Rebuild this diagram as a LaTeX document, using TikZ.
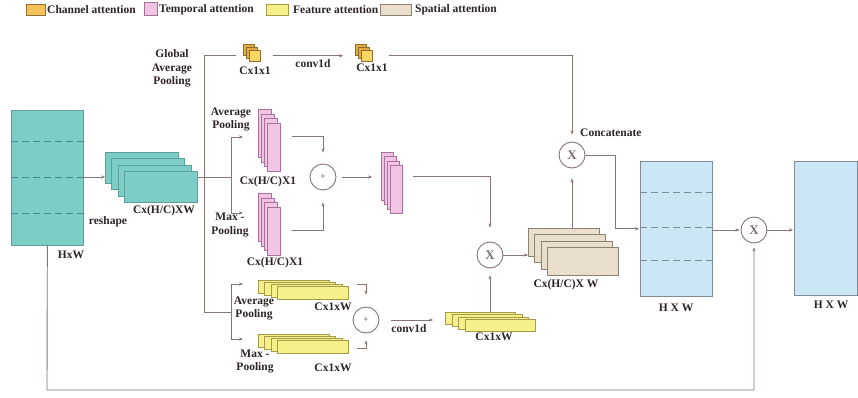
\documentclass[tikz,border=0pt]{standalone}
\usepackage{fontspec}
\setmainfont{Liberation Serif}
\usetikzlibrary{arrows.meta}
\definecolor{linec}{HTML}{857573}
\definecolor{txt}{HTML}{2E2424}
\definecolor{tealf}{HTML}{7ACEC6}
\definecolor{teald}{HTML}{5E9F99}
\definecolor{tealdash}{HTML}{4E8783}
\definecolor{orf}{HTML}{E8A83C}
\definecolor{ord}{HTML}{8E6E34}
\definecolor{orl}{HTML}{F8D862}
\definecolor{legor}{HTML}{F5C25A}
\definecolor{pinkf}{HTML}{F2C4E4}
\definecolor{pinkd}{HTML}{A8709A}
\definecolor{yelf}{HTML}{F6F08A}
\definecolor{yeld}{HTML}{A49C48}
\definecolor{beigef}{HTML}{E9DDCB}
\definecolor{beiged}{HTML}{8C8272}
\definecolor{bluef}{HTML}{CBE7F6}
\definecolor{blued}{HTML}{7F8C95}
\definecolor{opc}{HTML}{7A6E6E}
\begin{document}
\begin{tikzpicture}[x=1pt,y=-1pt,
  every node/.style={font=\bfseries\fontsize{11.5}{13.5}\selectfont, text=txt},
  lbl/.style={inner sep=0pt},
  box/.style={draw, anchor=north west, inner sep=0pt, line width=0.7pt},
  tealbox/.style={box, fill=tealf, draw=teald, minimum width=73pt, minimum height=31pt},
  cubeback/.style={box, fill=orf, draw=ord, minimum width=11pt, minimum height=11pt, line width=0.5pt},
  cubefront/.style={box, fill=orl, draw=ord, minimum width=11pt, minimum height=11pt, line width=0.5pt},
  pinkbox/.style={box, fill=pinkf, draw=pinkd, minimum width=13pt, minimum height=48pt},
  yelbox/.style={box, fill=yelf, draw=yeld, minimum width=71pt, minimum height=13pt},
  beigebox/.style={box, fill=beigef, draw=beiged, minimum width=71pt, minimum height=28pt},
  bluebox/.style={box, fill=bluef, draw=blued, minimum width=72pt, minimum height=135pt},
  ln/.style={draw=linec, line width=0.9pt},
  arr/.style={ln, -{Stealth[length=4pt,width=3.2pt]}},
  op/.style={circle, draw=linec, line width=0.9pt, fill=white, minimum size=26pt, inner sep=0pt, text=opc},
]
\useasboundingbox (0,0) rectangle (858,398);

% ---------- legend ----------
\node[box, fill=legor, draw=ord, minimum width=19pt, minimum height=11pt] (lg1) at (26,4) {};
\node[lbl, anchor=west] (lt1) at (47,9.5) {Channel attention};
\node[box, fill=pinkf, draw=pinkd, minimum width=13pt, minimum height=13pt] (lg2) at (144,2.5) {};
\node[lbl, anchor=west] (lt2) at (159,9.5) {Temporal attention};
\node[box, fill=yelf, draw=yeld, minimum width=22pt, minimum height=11pt] (lg3) at (266,4) {};
\node[lbl, anchor=west] (lt3) at (293,9.5) {Feature attention};
\node[box, fill=beigef, draw=beiged, minimum width=31pt, minimum height=11pt] (lg4) at (380,4) {};
\node[lbl, anchor=west] (lt4) at (415,9.5) {Spatial attention};

% ---------- input block ----------
\node[box, fill=tealf, draw=teald, minimum width=72pt, minimum height=135pt] (inp) at (11,110) {};
\foreach \yy in {142,177,213}
  \draw[tealdash, line width=1pt, dash pattern=on 7pt off 4pt] (inp.west |- 0,\yy) -- (inp.east |- 0,\yy);
\node[lbl] (lhw) at (71,255) {HxW};

% ---------- teal stack ----------
\foreach \i in {0,...,3}
  \node[tealbox] (ts\i) at ({105+6.3*\i},{152+6.3*\i}) {};
\node[lbl] (tsl) at (164,211) {Cx(H/C)XW};
\node[lbl] (rsh) at (108,222) {reshape};
\draw[arr] (inp.east |- 0,177) -- (ts0.west |- 0,177);

% ---------- coordinates ----------
\coordinate (tt) at (204,55);
\coordinate (tb) at (204,312);
\coordinate (gend) at (236,55);
\coordinate (pj) at (231,177);
\coordinate (pbt) at (231,137);
\coordinate (pbb) at (231,213);
\coordinate (ybt) at (231,284);
\coordinate (ybb) at (231,339);
\coordinate (yj) at (231,312);

% trunk and branches
\draw[ln] (ts3.east |- pj) -- (pj);
\draw[ln] (gend) -- (tt) -- (tb) -- (yj);
\draw[ln] (pbt) -- (pbb);
\draw[ln] (ybt) -- (ybb);

% ---------- channel attention ----------
\node[lbl, align=center] (gap) at (172,68.5) {Global\\Average\\Pooling};
\foreach \i/\s in {0/cubeback,1/cubeback,2/cubefront}
  \node[\s] (ca\i) at ({243+3*\i},{44+3*\i}) {};
\foreach \i/\s in {0/cubeback,1/cubeback,2/cubefront}
  \node[\s] (cb\i) at ({355+3*\i},{44+3*\i}) {};
\node[lbl] (cal) at (255,71) {Cx1x1};
\node[lbl] (cbl) at (372,68) {Cx1x1};
\node[lbl] (cconv) at (313,64) {conv1d};
\draw[arr, shorten <=12pt, shorten >=12pt] (ca2.east) -- (cb0.west |- ca2.east);

% ---------- temporal attention ----------
\foreach \i in {0,...,3} {
  \node[pinkbox] (pa\i) at ({258+3*\i},{109+4.7*\i}) {};
  \node[pinkbox] (pm\i) at ({258+3*\i},{193+4.7*\i}) {};
  \node[pinkbox, minimum width=12pt] (pr\i) at ({381+3*\i},{152+4.3*\i}) {};
}
\node[lbl] (pal) at (268,182) {Cx(H/C)X1};
\node[lbl] (pml) at (275,263) {Cx(H/C)X1};
\node[lbl, align=center] (pavg) at (231,119.5) {Average\\Pooling};
\node[lbl, align=center] (pmax) at (230,225) {Max -\\Pooling};
\draw[arr, shorten >=15pt] (pbt) -- (pa0.west |- pbt);
\draw[arr, shorten >=15pt] (pbb) -- (pm0.west |- pbb);

\node[op] (plus1) at (323,177) {\fontsize{9}{9}\selectfont +};
\coordinate (pao) at (292,136);
\coordinate (pmo) at (292,230);
\draw[arr, shorten >=11pt] (pao) -| (plus1.north);
\draw[arr, shorten >=12pt] (pmo) -| (plus1.south);
\draw[arr, shorten <=6pt, shorten >=9pt] (plus1.east) -- (pr0.west |- plus1.east);

% ---------- feature attention ----------
\foreach \i in {0,...,3} {
  \node[yelbox] (ya\i) at ({258+6.3*\i},{280+2*\i}) {};
  \node[yelbox] (ym\i) at ({258+6.3*\i},{334+2*\i}) {};
}
\foreach \i in {0,...,3}
  \node[yelbox, minimum width=70pt, minimum height=12pt] (yr\i) at ({445+6.7*\i},{312+2.3*\i}) {};
\node[lbl] (yal) at (333,307) {Cx1xW};
\node[lbl] (yml) at (333,368) {Cx1xW};
\node[lbl] (yrl) at (494,337) {Cx1xW};
\node[lbl, align=center] (yavg) at (254,308.5) {Average\\Pooling};
\node[lbl, align=center] (ymax) at (255,361.5) {Max -\\Pooling};
\draw[arr, shorten >=15pt] (ybt) -- (ya0.west |- ybt);
\draw[arr, shorten >=15pt] (ybb) -- (ym0.west |- ybb);

\node[op] (plus2) at (366,320) {\fontsize{9}{9}\selectfont +};
\coordinate (yao) at (357,284);
\coordinate (ymo) at (357,348);
\draw[arr, shorten >=12pt] (yao) -| (plus2.north);
\draw[arr, shorten >=7pt] (ymo) -| (plus2.south);
\draw[arr, shorten <=11.5pt, shorten >=12pt] (plus2.east) -- (yr0.west |- plus2.east);
\node[lbl] (yconv) at (409,329) {conv1d};

% ---------- spatial / combination ----------
\node[op] (lx) at (490,255) {\fontsize{13}{13}\selectfont X};
\coordinate (pro) at (413,176);
\draw[arr, shorten >=14pt] (pro) -| (lx.north);
\draw[arr, shorten >=7pt] (yr0.north -| lx) -- (lx.south);

\foreach \i in {0,...,3}
  \node[beigebox] (bs\i) at ({528+6.3*\i},{228+6.3*\i}) {};
\node[lbl] (bsl) at (566,285) {Cx(H/C)X W};
\draw[arr] (lx.east) -- (bs0.west |- lx.east);

\node[op] (catx) at (572,155) {\fontsize{13}{13}\selectfont X};
\node[lbl, anchor=west] (catl) at (580,133) {Concatenate};
\draw[arr, shorten >=10pt] (bs0.north -| catx) -- (catx.south);
\draw[arr, shorten <=16pt, shorten >=7pt] (cb2.east) -| (catx.north);

% ---------- output blocks ----------
\node[bluebox] (b1) at (640,161) {};
\foreach \yy in {192,227,260}
  \draw[blued, line width=1pt, dash pattern=on 7pt off 4pt] (b1.west |- 0,\yy) -- (b1.east |- 0,\yy);
\node[lbl] (b1l) at (676,308) {H X W};
\coordinate (cpt) at (615,190);
\draw[arr, shorten >=1pt] (catx.east) -| (cpt) |- (b1.west);

\node[op] (rx) at (754,230) {\fontsize{13}{13}\selectfont X};
\draw[arr, shorten >=1pt] (b1.east |- rx.west) -- (rx.west);

\node[bluebox, minimum width=63pt, minimum height=134pt] (b2) at (794,161) {};
\node[lbl] (b2l) at (831,305) {H X W};
\draw[arr, shorten >=1pt] (rx.east) -- (b2.west |- rx.east);

% bottom residual loop
\coordinate (lb) at (47,390);
\draw[arr, shorten >=4pt] (inp.south) -- (lb) -| (rx.south);
\end{tikzpicture}
\end{document}
